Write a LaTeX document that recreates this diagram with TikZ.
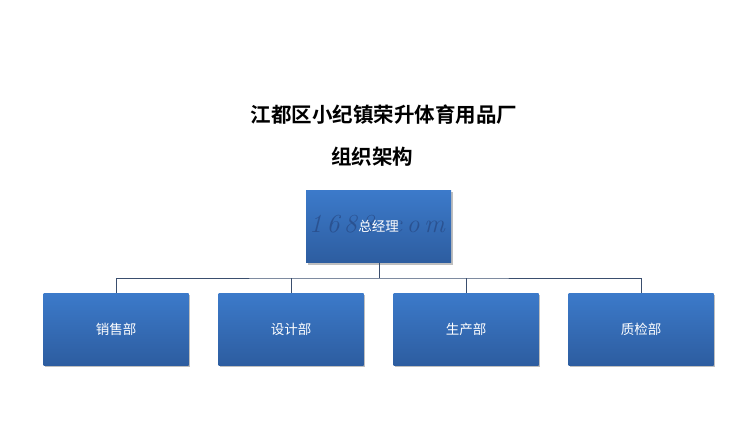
\documentclass[tikz,border=0pt]{standalone}
\usepackage{fontspec}
\newfontfamily\cjk{Noto Sans CJK SC}
\newfontfamily\cjkbold{Noto Sans CJK SC Bold}
\usetikzlibrary{shadows}
\definecolor{boxtop}{RGB}{60,122,202}
\definecolor{boxbot}{RGB}{45,93,160}
\definecolor{linecol}{RGB}{58,78,110}
\definecolor{wmcol}{RGB}{30,50,100}
\tikzset{
  orgbox/.style={minimum width=145pt, minimum height=72pt, inner sep=0pt,
    top color=boxtop, bottom color=boxbot, draw=none,
    drop shadow={shadow xshift=1.5pt, shadow yshift=-2pt, fill=black, opacity=0.25},
    text=white, font=\cjk\fontsize{13.5pt}{15pt}\selectfont},
  conn/.style={draw=linecol, line width=0.8pt},
  titletext/.style={font=\cjkbold\fontsize{20.5pt}{23pt}\selectfont, text=black}
}
\begin{document}
\begin{tikzpicture}[x=1pt,y=-1pt]
\useasboundingbox (0,0) rectangle (753,441);
\fill[white] (0,0) rectangle (753,441);
\node[titletext] (t1) at (384,115) {江都区小纪镇荣升体育用品厂};
\node[titletext] (t2) at (372,157) {组织架构};
\node[orgbox] (gm) at (378.5,226.5) {};
\node[font=\fontsize{26pt}{28pt}\selectfont\itshape, text=wmcol, opacity=0.45] (wm) at (377,224) {1\,6\,8\,8\,.\,c\,o\,m};
\node[font=\cjk\fontsize{13.5pt}{15pt}\selectfont, text=white] (gmt) at (gm.center) {总经理};
\node[orgbox] (b1) at (116,329) {销售部};
\node[orgbox] (b2) at (291,329) {设计部};
\node[orgbox] (b3) at (466,329) {生产部};
\node[orgbox] (b4) at (641,329) {质检部};
\coordinate (j) at (379,278);
\draw[conn] (gm.south -| j) -- (j);
\draw[conn] (b1.north) |- (j) -| (b4.north);
\draw[conn] (b2.north) -- (b2.north |- j);
\draw[conn] (b3.north) -- (b3.north |- j);
\end{tikzpicture}
\end{document}
